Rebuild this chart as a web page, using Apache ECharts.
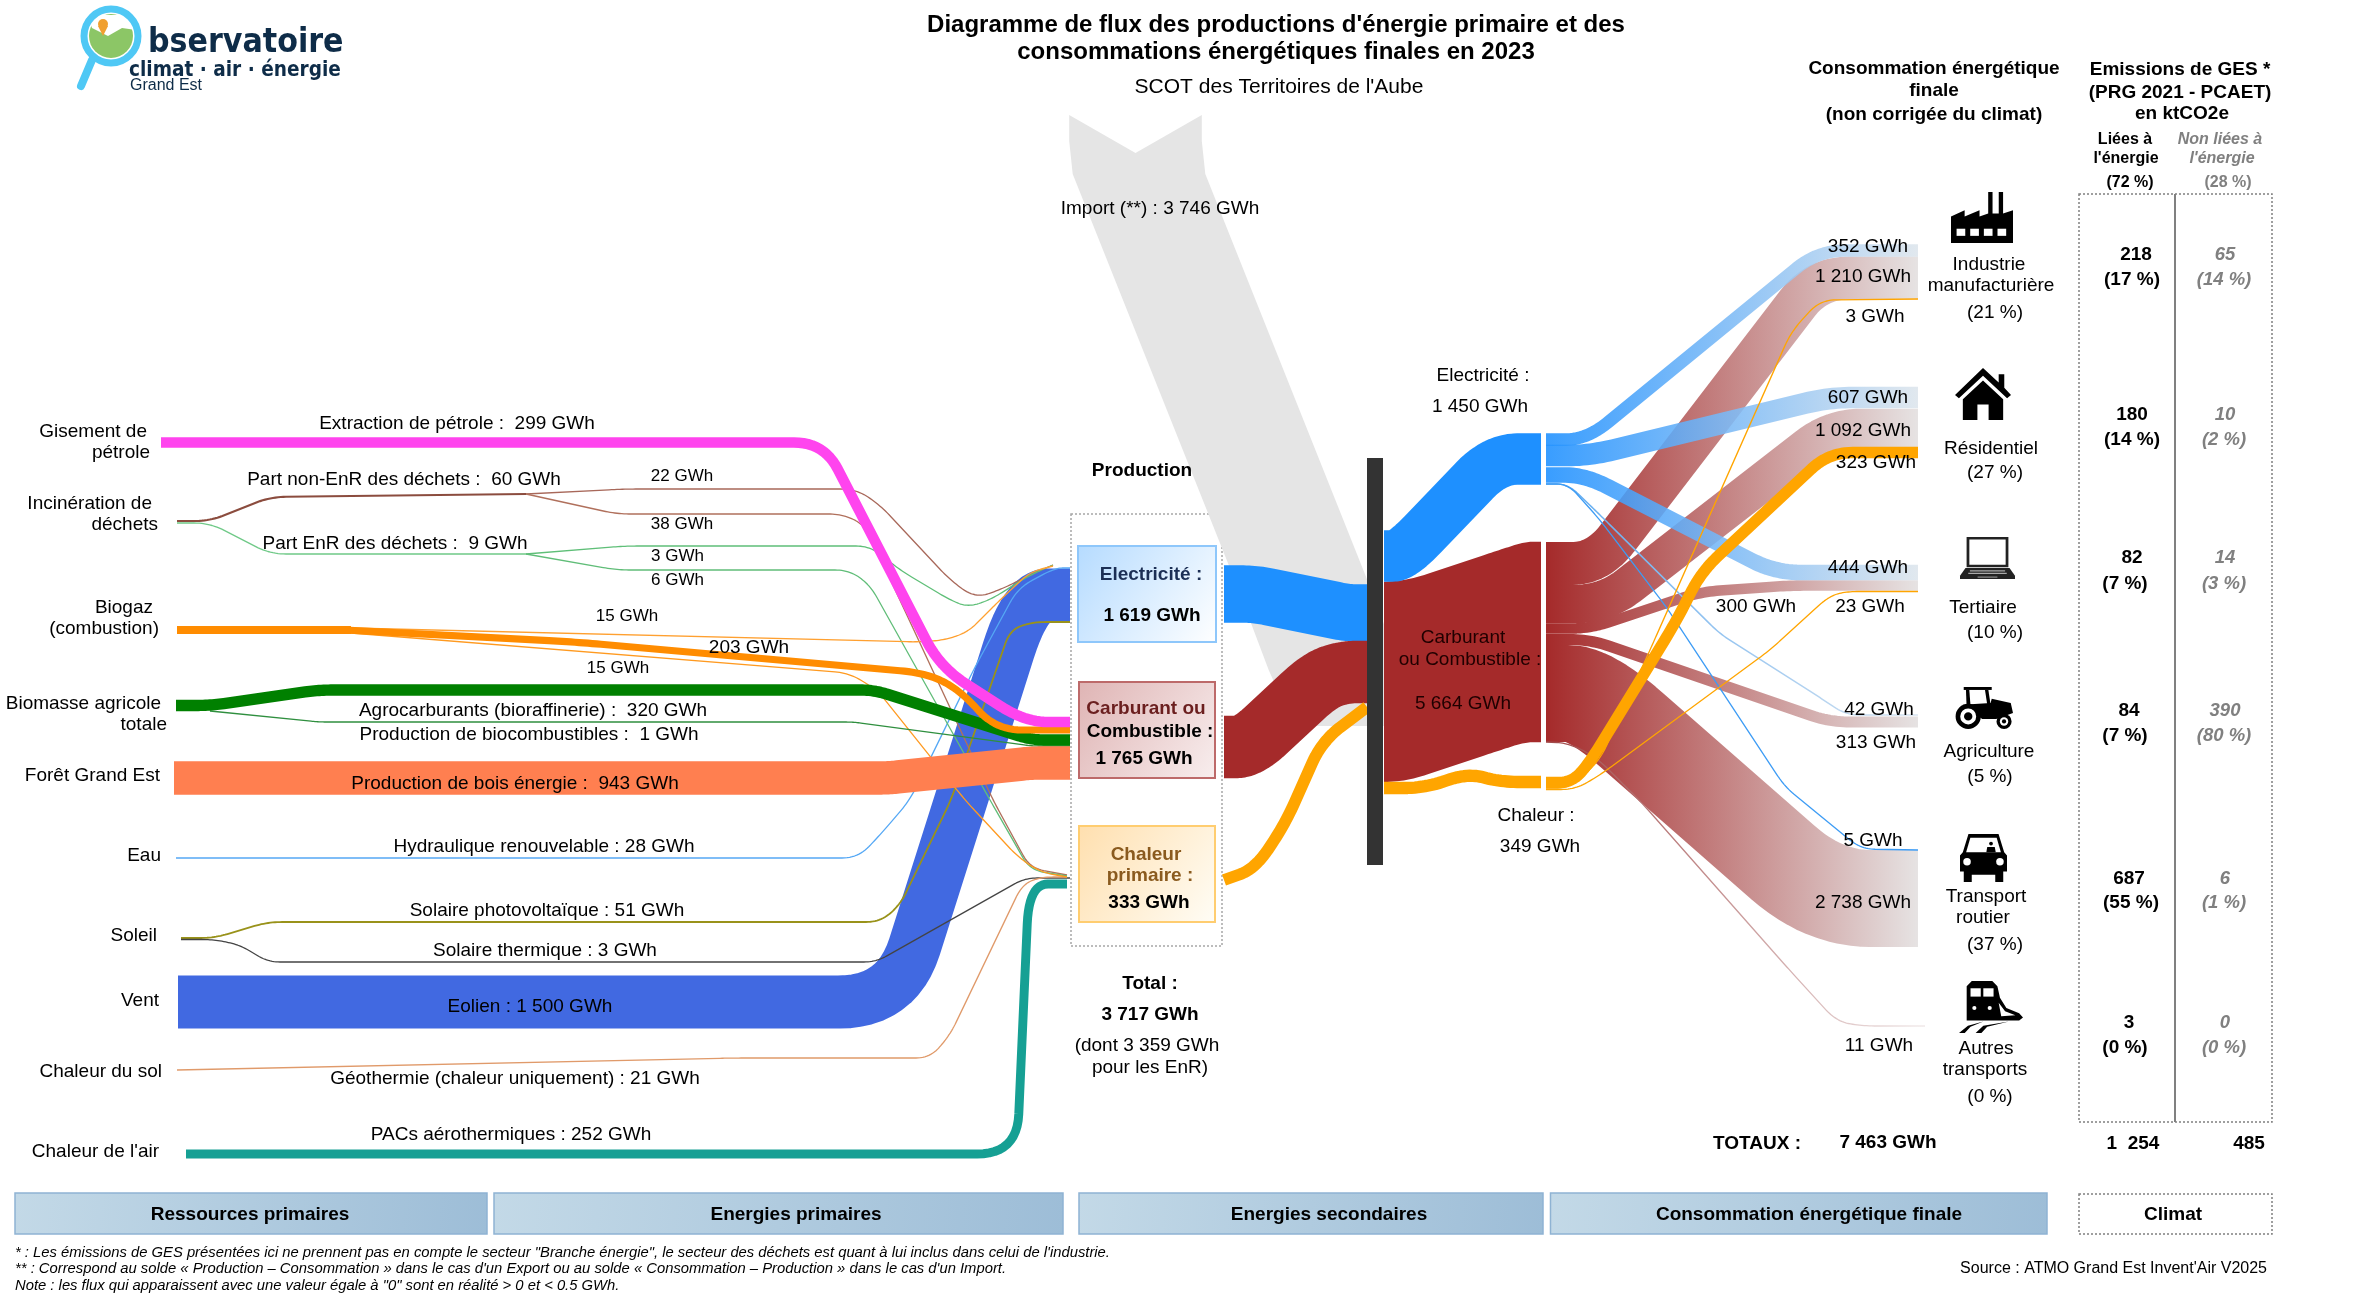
<!DOCTYPE html>
<html><head><meta charset="utf-8">
<style>html,body{margin:0;padding:0;background:#fff}#c{width:2370px;height:1299px}</style>
<script src="https://cdn.jsdelivr.net/npm/echarts@6/dist/echarts.min.js"></script>
</head><body><div id="c"></div>
<script>
// ---- DATA (GWh) ----
const flowKeys = ['import','eolien','pac','hydro','pv','therm','geo','d22','d38','d3','d6','b15a','b15b','nonEnr','enr','biocomb','agro','bois','biogazTrunk','b203','petrole',
  'prodElec','prodFuel','prodHeat','nodeFuel','nodeElec','nodeHeat',
  'fuelInd','fuelRes','fuelTer','fuelAgr','fuelTra','fuelAut','elecAgr','elecTra','elecInd','elecRes','elecTer','heatInd','heatTer','heatRes'];
const flowValues = [3746,1500,252,28,51,3,21,22,38,3,6,15,15,60,9,1,320,943,233,203,299,
  1619,1765,333,5664,1450,349,
  1210,1092,300,313,2738,11,42,5,352,607,444,3,23,323];
const resourceLabels = ['Gisement de','pétrole','Incinération de','déchets','Biogaz','(combustion)','Biomasse agricole','totale','Forêt Grand Est','Eau','Soleil','Vent','Chaleur du sol',"Chaleur de l'air"];
const sectorNames = ['Industrie','manufacturière','Résidentiel','Tertiaire','Agriculture','Transport','routier','Autres','transports'];
const sectorShares = [21,27,10,5,37,0];
const ghgEnergy = [218,180,82,84,687,3];
const ghgEnergyShare = [17,14,7,7,55,0];
const ghgOther = [65,10,14,390,6,0];
const ghgOtherShare = [14,2,3,80,1,0];
const totals = {production:3717, renewable:3359, consumption:7463, ghgEnergy:1254, ghgOther:485, elecProd:1619, fuelProd:1765, heatProd:333};
const V = {}; flowKeys.forEach((k,i)=>V[k]=flowValues[i]);

// ---- LAYOUT ----
const PX_PER_GWH = 0.0354, MIN_W = 1.3, TEXT_DY = 1.5;
const FONT = '"Liberation Sans", Arial, sans-serif';
const BLUE='#1E90FF', RED='#A52A2A', ORG='#FFA500';
const fadeE = ['#1E90FF','#dde5ec'], fadeF = ['#A52A2A','#e6e3e3'];
const ROUTES = {
 import:{mode:'h',pts:[[1135.5,115],[1135.5,141],[1139,174],[1301,580],[1335,670],[1360,726]],notch:38,color:'#e5e5e5'},
 eolien:{pts:[[178,1002],[897,1002],[1026,595],[1070,595]],r:58,color:'#4169E1'},
 pac:{pts:[[186,1154],[1017,1154],[1029,884],[1067,884]],r:40,color:'#16A094'},
 hydro:{pts:[[176,858],[858,858],[880,835],[910,800],[975,667],[1018,588],[1055,568],[1070,568]],r:16,color:'#55a8f5'},
 pv:{pts:[[181,938],[214,938],[268,922],[880,922],[900,905],[951,800],[1010,630],[1032,622],[1070,622]],r:14,color:'#99921a'},
 therm:{pts:[[181,939.5],[214,939.5],[240,945],[268,962],[876,962],[1025,878],[1070,878]],r:12,color:'#444444'},
 geo:{pts:[[177,1070],[734,1058],[930,1058],[950,1035],[1022,885],[1040,877],[1067,877]],r:14,color:'#e09a6a'},
 d22:{pts:[[526,494],[625,489],[856,489],[880,505],[950,580],[975,598],[1000,590],[1030,575],[1053,565]],r:16,color:'#a8685a'},
 d38:{pts:[[526,494],[617,514],[842,514],[865,525],[993,800],[1030,868],[1067,875]],r:14,color:'#b0705c'},
 d3:{pts:[[526,554],[625,546],[870,546],[900,570],[950,600],[968,607],[990,600],[1030,575],[1053,565]],r:14,color:'#5fbf78'},
 d6:{pts:[[526,554],[617,570],[849,570],[870,585],[990,800],[1030,870],[1067,876]],r:14,color:'#60bd78'},
 b15a:{pts:[[351,628],[919,642],[945,640],[968,632],[1000,600],[1030,572],[1053,566]],r:12,color:'#ffa030'},
 b15b:{pts:[[351,633],[849,673],[877,690],[965,800],[1018,857],[1040,872],[1067,877]],r:14,color:'#ff9a20'},
 nonEnr:{pts:[[177,521],[210,521],[270,497],[526,494]],r:16,color:'#8b4c3e'},
 enr:{pts:[[177,523],[210,523],[270,554],[526,554]],r:16,color:'#6fc987'},
 biocomb:{pts:[[210,711],[319,722],[853,722],[1032,746],[1070,746]],r:8,color:'#2f8f3f'},
 agro:{pts:[[176,705.5],[210,705.5],[319,690],[874,690],[1032,740],[1070,740]],r:14,color:'#008000'},
 bois:{pts:[[174,778],[888,778],[1032,763],[1070,763]],r:10,color:'#FF7F50'},
 biogazTrunk:{pts:[[177,630],[351,630]],r:0,color:'#FF8C00'},
 b203:{pts:[[345,630],[575,642],[926,673],[960,690],[996,730],[1070,730]],r:26,color:'#FF8C00'},
 petrole:{pts:[[161,442.5],[824,442.5],[940,667],[1025,722],[1070,722]],r:30,color:'#FF44EE'},
 prodElec:{pts:[[1224,594],[1255,594],[1348,613],[1367,613]],r:14,color:BLUE},
 prodFuel:{pts:[[1224,747],[1248,747],[1320,680],[1345,672],[1367,672]],r:24,color:RED},
 prodHeat:{pts:[[1224,880],[1255,869],[1285,824],[1322,741],[1367,707]],r:24,color:ORG},
 nodeFuel:{mode:'v',pts:[[1384,682],[1410,680],[1500,650],[1525,642],[1541,642]],r:18,color:RED},
 nodeElec:{pts:[[1384,556],[1402,556],[1495,459],[1541,459]],r:30,color:BLUE},
 nodeHeat:{pts:[[1384,788],[1425,788],[1468,773],[1500,782],[1541,782]],r:22,color:ORG},
 fuelInd:{pts:[[1546,563.5],[1598,563.5],[1817,278],[1918,278]],r:32,fade:fadeF},
 fuelRes:{pts:[[1546,604],[1605,604],[1832,428],[1918,428]],r:30,fade:fadeF},
 fuelTer:{pts:[[1546,628.5],[1590,628.5],[1700,592],[1790,585.5],[1918,585.5]],r:20,fade:fadeF},
 fuelAgr:{pts:[[1546,639.5],[1590,639.5],[1830,722],[1918,722]],r:20,fade:fadeF},
 fuelTra:{pts:[[1546,693.5],[1590,693.5],[1824,898.5],[1918,898.5]],r:55,fade:fadeF},
 fuelAut:{pts:[[1546,742],[1568,743],[1596,757],[1642,803],[1785,965],[1836,1021],[1861,1026],[1925,1026]],r:16,fade:['#a04848','#f0e8e8']},
 elecAgr:{pts:[[1546,484],[1568,484],[1600,515],[1720,634],[1810,691],[1846,715],[1918,715]],r:14,fade:['#5aa8f0','#d8e4f0']},
 elecTra:{pts:[[1546,484],[1568,484],[1600,520],[1667,608],[1785,787],[1861,849],[1918,850]],r:14,color:'#3d9cf5'},
 elecInd:{pts:[[1546,439.5],[1587,439.5],[1818,250.5],[1918,250.5]],r:28,fade:fadeE,op:.88},
 elecRes:{pts:[[1546,455.5],[1590,455.5],[1829,397.5],[1918,397.5]],r:24,fade:fadeE,op:.88},
 elecTer:{pts:[[1546,475],[1585,475],[1775,572.5],[1918,572.5]],r:26,fade:fadeE,op:.88},
 heatInd:{pts:[[1546,788],[1570,788],[1600,760],[1650,650],[1791,332],[1820,300],[1918,299]],r:16,color:ORG},
 heatTer:{pts:[[1546,789.5],[1575,789.5],[1600,775],[1770,650],[1828,597],[1845,591.5],[1918,591.5]],r:14,color:ORG},
 heatRes:{pts:[[1546,782.5],[1572,782.5],[1590,762],[1677,620],[1701,572],[1829,452.5],[1918,452.5]],r:24,color:ORG}
};

function rounded(pts,r){
  if(!r) return pts;
  const out=[pts[0]];
  for(let i=1;i<pts.length-1;i++){
    const p=pts[i],a=pts[i-1],b=pts[i+1];
    const la=Math.hypot(p[0]-a[0],p[1]-a[1]),lb=Math.hypot(b[0]-p[0],b[1]-p[1]);
    const d1=Math.min(r,la/2),d2=Math.min(r,lb/2);
    const s=[p[0]+(a[0]-p[0])*d1/la,p[1]+(a[1]-p[1])*d1/la],e=[p[0]+(b[0]-p[0])*d2/lb,p[1]+(b[1]-p[1])*d2/lb];
    for(let t=0;t<=12;t++){const u=t/12,w=1-u;out.push([w*w*s[0]+2*w*u*p[0]+u*u*e[0],w*w*s[1]+2*w*u*p[1]+u*u*e[1]]);}
  }
  out.push(pts[pts.length-1]);
  return out;
}
function renderFlow(params,api){
  const key=flowKeys[api.value(0)], val=api.value(1), R=ROUTES[key];
  if(!R||!val) return null;
  const pts=R.pts.map(p=>api.coord(p));
  const w=Math.max(api.size([0,val*PX_PER_GWH])[1],MIN_W);
  if(R.mode==='h'){
    const L=pts.map(p=>[p[0]-w/2,p[1]]),Rr=pts.map(p=>[p[0]+w/2,p[1]]).reverse();
    const notch=api.coord([R.pts[0][0],R.pts[0][1]+R.notch]);
    return {type:'polygon',silent:true,shape:{points:[notch].concat(L,Rr)},style:{fill:R.color}};
  }
  if(R.mode==='v'){
    const c=rounded(pts,R.r);
    const T=c.map(p=>[p[0],p[1]-w/2]),B=c.map(p=>[p[0],p[1]+w/2]).reverse();
    return {type:'polygon',silent:true,shape:{points:T.concat(B)},style:{fill:R.color}};
  }
  const stroke=R.fade?new echarts.graphic.LinearGradient(1546,pts[0][1],1918,pts[0][1],[{offset:0,color:R.fade[0]},{offset:1,color:R.fade[1]}],true):R.color;
  return {type:'polyline',silent:true,shape:{points:rounded(pts,R.r)},
    style:{fill:'none',stroke:stroke,lineWidth:w,lineCap:'butt',lineJoin:'round',opacity:R.op||1}};
}

// ---- TEXT ----
const gwh=v=>String(v).replace(/\B(?=(\d{3})+$)/g,' ')+' GWh';
const F18=`19px ${FONT}`,F16=`17px ${FONT}`,B18=`bold 19px ${FONT}`,B19=`bold 19px ${FONT}`,B22=`bold 24px ${FONT}`,B15=`bold 16px ${FONT}`,BI18=`italic bold 18.5px ${FONT}`,BI15=`italic bold 16px ${FONT}`;
const texts=[];
const T=(t,x,y,a,f,c)=>texts.push({t,x,y:y+TEXT_DY,a:a||'center',f:f||F18,c:c||'#000'});
T('Diagramme de flux des productions d\'énergie primaire et des',1276,24,'center',B22);
T('consommations énergétiques finales en 2023',1276,51,'center',B22);
T("SCOT des Territoires de l'Aube",1279,86,'center',`21px ${FONT}`);
const RL=[[147,430],[150,451],[152,502],[158,523],[153,606],[159,627],[161,702],[167,723],[160,774],[161,854],[157,934],[159,999],[162,1070],[159,1150]];
resourceLabels.forEach((s,i)=>T(s,RL[i][0],RL[i][1],'right'));
T(`Extraction de pétrole :  ${gwh(V.petrole)}`,457,422);
T(`Part non-EnR des déchets :  ${gwh(V.nonEnr)}`,404,478);
T(gwh(V.d22),682,475,'center',F16); T(gwh(V.d38),682,523,'center',F16);
T(`Part EnR des déchets :  ${gwh(V.enr)}`,395,542);
T(gwh(V.d3),651,555,'left',F16); T(gwh(V.d6),651,579,'left',F16);
T(gwh(V.b15a),627,615,'center',F16); T(gwh(V.b203),749,646); T(gwh(V.b15b),618,667,'center',F16);
T(`Agrocarburants (bioraffinerie) :  ${gwh(V.agro)}`,533,709);
T(`Production de biocombustibles :  ${gwh(V.biocomb)}`,529,733);
T(`Production de bois énergie :  ${gwh(V.bois)}`,515,782);
T(`Hydraulique renouvelable : ${gwh(V.hydro)}`,544,845);
T(`Solaire photovoltaïque : ${gwh(V.pv)}`,547,909);
T(`Solaire thermique : ${gwh(V.therm)}`,545,949);
T(`Eolien : ${gwh(V.eolien)}`,530,1005);
T(`Géothermie (chaleur uniquement) : ${gwh(V.geo)}`,515,1077);
T(`PACs aérothermiques : ${gwh(V.pac)}`,511,1133);
T(`Import (**) : ${gwh(V.import)}`,1160,207);
T('Production',1142,469,'center',B18);
T('Electricité :',1151,573,'center',B18,'#1c2f55'); T(gwh(totals.elecProd),1152,614,'center',B18);
T('Carburant ou',1146,707,'center',B18,'#6b1f1f'); T('Combustible :',1150,730,'center',B18); T(gwh(totals.fuelProd),1144,757,'center',B18);
T('Chaleur',1146,853,'center',B18,'#8a5a1e'); T('primaire :',1150,874,'center',B18,'#8a5a1e'); T(gwh(totals.heatProd),1149,901,'center',B18);
T('Total :',1150,982,'center',B18); T(gwh(totals.production),1150,1013,'center',B18);
T(`(dont ${gwh(totals.renewable)}`,1147,1044); T('pour les EnR)',1150,1066);
T('Electricité :',1483,374); T(gwh(V.nodeElec),1480,405);
T('Carburant',1463,636,'center',F18,'#200000'); T('ou Combustible :',1470,658,'center',F18,'#200000'); T(gwh(V.nodeFuel),1463,702,'center',F18,'#200000');
T('Chaleur :',1536,814); T(gwh(V.nodeHeat),1540,845);
[['elecInd',1868,245],['fuelInd',1863,275],['heatInd',1875,315],['elecRes',1868,396],['fuelRes',1863,429],['heatRes',1876,461],['elecTer',1868,566],['fuelTer',1756,605],['heatTer',1870,605],['elecAgr',1879,708],['fuelAgr',1876,741],['elecTra',1873,839],['fuelTra',1863,901],['fuelAut',1879,1044]].forEach(a=>T(gwh(V[a[0]]),a[1],a[2]));
T('TOTAUX :',1757,1142,'center',B18); T(gwh(totals.consumption),1888,1141,'center',B18);
T('Consommation énergétique',1934,67,'center',B18); T('finale',1934,89,'center',B18); T('(non corrigée du climat)',1934,113,'center',B18);
T('Emissions de GES *',2180,68,'center',B18); T('(PRG 2021 - PCAET)',2180,91,'center',B18); T('en ktCO2e',2182,112,'center',B18);
T('Liées à',2125,138,'center',B15); T("l'énergie",2126,157,'center',B15); T('(72 %)',2130,181,'center',B15);
T('Non liées à',2220,138,'center',BI15,'#808080'); T("l'énergie",2222,157,'center',BI15,'#808080'); T('(28 %)',2228,181,'center',B15,'#808080');
const SL=[[1989,263],[1991,284],[1991,447],[1983,606],[1989,750],[1986,895],[1983,916],[1986,1047],[1985,1068]];
sectorNames.forEach((s,i)=>T(s,SL[i][0],SL[i][1]));
const SP=[[1995,311],[1995,471],[1995,631],[1990,775],[1995,943],[1990,1095]];
sectorShares.forEach((s,i)=>T(`(${s} %)`,SP[i][0],SP[i][1]));
const GY=[[253,278,2136,2132],[413,438,2132,2132],[556,582,2132,2125],[709,734,2129,2125],[877,901,2129,2131],[1021,1046,2129,2125]];
ghgEnergy.forEach((v,i)=>{const g=GY[i];T(String(v),g[2],g[0],'center',B19);T(`(${ghgEnergyShare[i]} %)`,g[3],g[1],'center',B19);
  T(String(ghgOther[i]),2225,g[0],'center',BI18,'#808080');T(`(${ghgOtherShare[i]} %)`,2224,g[1],'center',BI18,'#808080');});
T('1  254',2133,1142,'center',B19); T(String(totals.ghgOther),2249,1142,'center',B19);
T('Ressources primaires',250,1213,'center',B18); T('Energies primaires',796,1213,'center',B18); T('Energies secondaires',1329,1213,'center',B18); T('Consommation énergétique finale',1809,1213,'center',B18); T('Climat',2173,1213,'center',B18);
const FN=`italic 14.8px ${FONT}`;
T('* : Les émissions de GES présentées ici ne prennent pas en compte le secteur "Branche énergie", le secteur des déchets est quant à lui inclus dans celui de l\'industrie.',15,1251,'left',FN);
T('** : Correspond au solde « Production – Consommation » dans le cas d\'un Export ou au solde « Consommation – Production » dans le cas d\'un Import.',15,1267,'left',FN);
T('Note : les flux qui apparaissent avec une valeur égale à "0" sont en réalité > 0 et < 0.5 GWh.',15,1284,'left',FN);
T("Source : ATMO Grand Est Invent'Air V2025",2267,1267,'right',`16px ${FONT}`);

// ---- DECORATION ----
const els=[];
const grad=(a,b)=>new echarts.graphic.LinearGradient(0,0,1,1,[{offset:0,color:a},{offset:1,color:b}]);
const box=(x,y,w,h,fill,stroke,lw,dash,z)=>els.push({type:'rect',silent:true,z:z||1,shape:{x,y,width:w,height:h},style:{fill:fill||'none',stroke:stroke||'none',lineWidth:lw||1,lineDash:dash||null}});
box(1071,514,151,432,'#fff','#a6a6a6',1.5,[2,2]);
box(2079,194,193,928,'none','#808080',1.5,[2,2]);
box(2079,1194,193,40,'#fff','#808080',1.5,[2,2]);
els.push({type:'line',silent:true,z:1,shape:{x1:2175,y1:194,x2:2175,y2:1122},style:{stroke:'#808080',lineWidth:2}});
box(1078,546,138,96,grad('#b5dbff','#ffffff'),'#8ec7fb',2);
box(1079,682,136,96,grad('#dfb4b4','#f8eeee'),'#bd6a6a',2);
box(1079,826,136,96,grad('#ffdfae','#fffdf6'),'#ffcd70',2);
[[15,472],[494,569],[1079,464],[1550.5,496.5]].forEach(b=>box(b[0],1193,b[1],41,grad('#c3d9e7','#9dbdd7'),'#8fb3d3',1.5));
const barEl={type:'rect',silent:true,z:5,shape:{x:1367,y:458,width:16,height:407},style:{fill:'#333333'}};

const K='#000',W='#fff';
const ICONS={
 factory:{b:[1951,192,62,51],s:[['p',[[0,100],[0,48],[22,36],[22,48],[46,36],[46,48],[60,42],[60,0],[67,0],[67,42],[77,42],[77,0],[84,0],[84,42],[100,36],[100,100]],K],
   ['r',9,72,14,14,W],['r',31,72,14,14,W],['r',53,72,14,14,W],['r',75,72,14,14,W]]},
 house:{b:[1955,368,56,52],s:[['p',[[0,52],[50,0],[78,28],[78,12],[88,12],[88,38],[100,52],[93,58],[50,15],[7,58]],K],
   ['p',[[14,60],[50,24],[86,60],[86,100],[60,100],[60,70],[40,70],[40,100],[14,100]],K]]},
 laptop:{b:[1960,537,55,42],s:[['r',12,0,76,72,'#222'],['r',17,6,66,60,W],['p',[[10,74],[90,74],[100,92],[100,100],[0,100],[0,92]],'#222'],['r',18,79,64,3,'#aaa'],['r',15,85,70,3,'#aaa'],['r',32,94,36,3,'#888']]},
 tractor:{b:[1957,687,56,42],s:[['r',12,0,50,7,K],['p',[[16,7],[22,7],[24,42],[17,42]],K],['p',[[50,7],[56,7],[60,42],[54,42]],K],['p',[[10,42],[60,38],[62,28],[96,38],[100,62],[70,76],[45,76]],K],
   ['c',20,70,30,K],['c',20,70,19,W],['c',20,70,10,K],['c',84,82,18,K],['c',84,82,10,W],['c',84,82,5,K]]},
 car:{b:[1960,834,47,48],s:[['p',[[18,0],[82,0],[94,38],[100,45],[100,78],[92,78],[92,100],[75,100],[75,85],[25,85],[25,100],[8,100],[8,78],[0,78],[0,45],[6,38]],K],
   ['p',[[22,8],[78,8],[87,38],[13,38]],W],['c',66,20,4,K],['p',[[56,38],[58,27],[74,27],[76,38]],K],['c',15,58,8,W],['c',85,58,8,W]]},
 train:{b:[1959,981,64,52],s:[['p',[[12,10],[20,0],[52,0],[60,10],[64,32],[74,52],[94,62],[100,70],[94,76],[12,76]],K],
   ['r',18,14,16,16,W],['r',38,14,16,16,W],['c',24,52,4,W],['c',48,52,4,W],['p',[[62,42],[72,58],[88,66],[66,68]],W],
   ['p',[[0,100],[14,86],[38,78],[18,88],[9,100]],K],['p',[[26,100],[38,86],[78,78],[44,88],[35,100]],K]]}
};
Object.values(ICONS).forEach(ic=>{const [x0,y0,bw,bh]=ic.b;const X=v=>x0+v*bw/100,Y=v=>y0+v*bh/100;
 ic.s.forEach(s=>{
  if(s[0]==='p')els.push({type:'polygon',silent:true,z:3,shape:{points:s[1].map(p=>[X(p[0]),Y(p[1])])},style:{fill:s[2]}});
  if(s[0]==='r')els.push({type:'rect',silent:true,z:3,shape:{x:X(s[1]),y:Y(s[2]),width:s[3]*bw/100,height:s[4]*bh/100},style:{fill:s[5]}});
  if(s[0]==='c')els.push({type:'circle',silent:true,z:3,shape:{cx:X(s[1]),cy:Y(s[2]),r:s[3]*Math.min(bw,bh)/100},style:{fill:s[4]}});
 });});
els.push({type:'circle',silent:true,z:3,shape:{cx:111,cy:36,r:22},style:{fill:'#8cc666'}});
els.push({type:'polygon',silent:true,z:3,shape:{points:[[88,15],[136,15],[136,30],[122,28],[108,36],[92,28]]},style:{fill:'#fff'}});
els.push({type:'circle',silent:true,z:4,shape:{cx:111,cy:36,r:27},style:{fill:'none',stroke:'#4fc8f5',lineWidth:7}});
els.push({type:'line',silent:true,z:4,shape:{x1:92,y1:60,x2:81,y2:86},style:{stroke:'#4fc8f5',lineWidth:8,lineCap:'round'}});
els.push({type:'circle',silent:true,z:4,shape:{cx:103,cy:24,r:5},style:{fill:'#f0a030'}});
els.push({type:'polygon',silent:true,z:4,shape:{points:[[98,26],[108,26],[103,36]]},style:{fill:'#f0a030'}});
const NAVY='#0e2c48';
T('bservatoire',148,42,'left',`bold 33.5px "DejaVu Sans Condensed","DejaVu Sans",sans-serif`,NAVY);
T('climat · air · énergie',129,69,'left',`bold 20.6px "DejaVu Sans Condensed","DejaVu Sans",sans-serif`,NAVY);
T('Grand Est',130,84,'left',`16px ${FONT}`,NAVY);
texts.forEach(o=>els.push({type:'text',silent:true,z:10,style:{text:o.t,x:o.x,y:o.y,font:o.f,fill:o.c,align:o.a,verticalAlign:'middle'}}));

const chart=echarts.init(document.getElementById('c'),null,{renderer:'canvas',width:2370,height:1299});
chart.setOption({
 animation:false,backgroundColor:'#fff',
 grid:{left:0,right:0,top:0,bottom:0},
 xAxis:{type:'value',min:0,max:2370,show:false},
 yAxis:{type:'value',min:0,max:1299,inverse:true,show:false},
 tooltip:{show:false},
 series:[{type:'custom',coordinateSystem:'cartesian2d',clip:false,silent:true,z:2,
   renderItem:renderFlow,data:flowValues.map((v,i)=>[i,v])}],
 graphic:{elements:els.concat([barEl])}
});
</script></body></html>
